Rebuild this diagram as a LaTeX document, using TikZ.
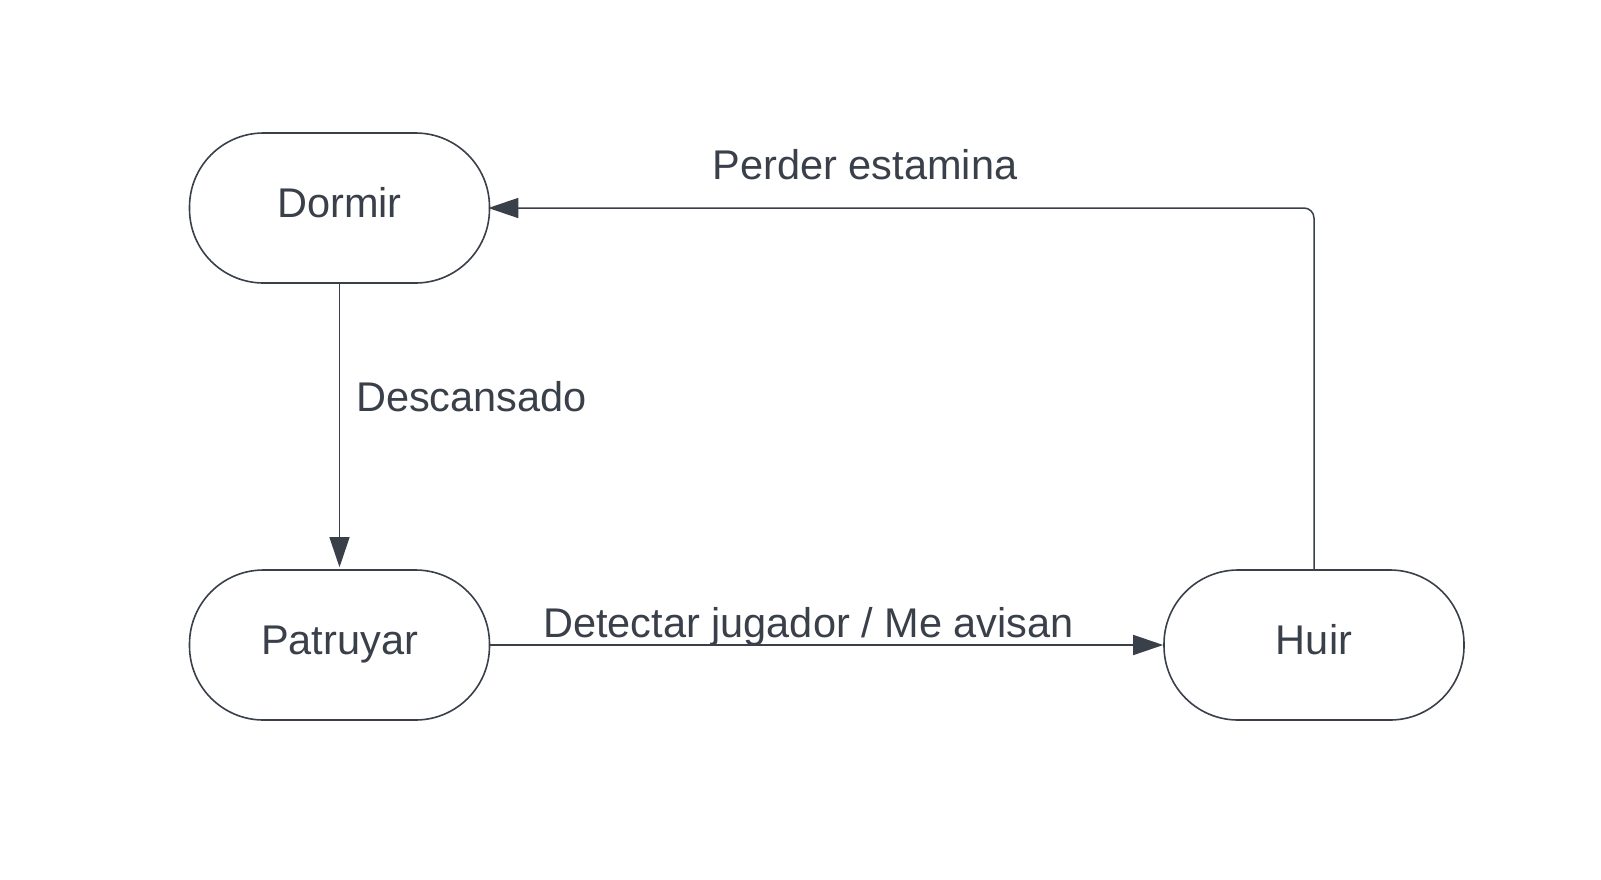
\documentclass[tikz,border=0pt]{standalone}
\usepackage{fontspec}
\setmainfont{Liberation Sans}
\usetikzlibrary{arrows.meta}
\definecolor{ink}{HTML}{3A404A}
\begin{document}
\begin{tikzpicture}[x=1pt,y=-1pt,
  state/.style={draw=ink, line width=1.6pt, rectangle, rounded corners=74pt,
    minimum width=300pt, minimum height=150pt, inner sep=0pt},
  stxt/.style={text=ink, font=\fontsize{41.5}{44}\selectfont, anchor=base, inner sep=0pt},
  lbl/.style={text=ink, font=\fontsize{41.5}{44}\selectfont, anchor=base, inner sep=0pt},
  conn/.style={draw=ink, line width=1.5pt, -{Triangle[length=30pt,width=20pt]}}]
\useasboundingbox (0,0) rectangle (1601,879);
\fill[white] (0,0) rectangle (1601,879);
\node[state] (dormir) at (339.5,208) {};
\node[state] (patruyar) at (339.5,645) {};
\node[state] (huir) at (1314,645) {};
\node[stxt] (tdormir) at (339.5,217) {Dormir};
\node[stxt] (tpatruyar) at (339.5,654) {Patruyar};
\node[stxt] (thuir) at (1314,654) {Huir};
\draw[conn, line width=1.2pt, shorten >=2pt] (dormir.south) -- (patruyar.north);
\draw[conn] (patruyar.east) -- (huir.west);
\draw[conn, rounded corners=10pt, shorten >=-2pt] (huir.north) |- (dormir.east);
\node[lbl] (l1) at (865,179) {Perder estamina};
\node[lbl, anchor=base west] (l2) at (356,411) {Descansado};
\node[lbl] (l3) at (808.5,637) {Detectar jugador / Me avisan};
\end{tikzpicture}
\end{document}
